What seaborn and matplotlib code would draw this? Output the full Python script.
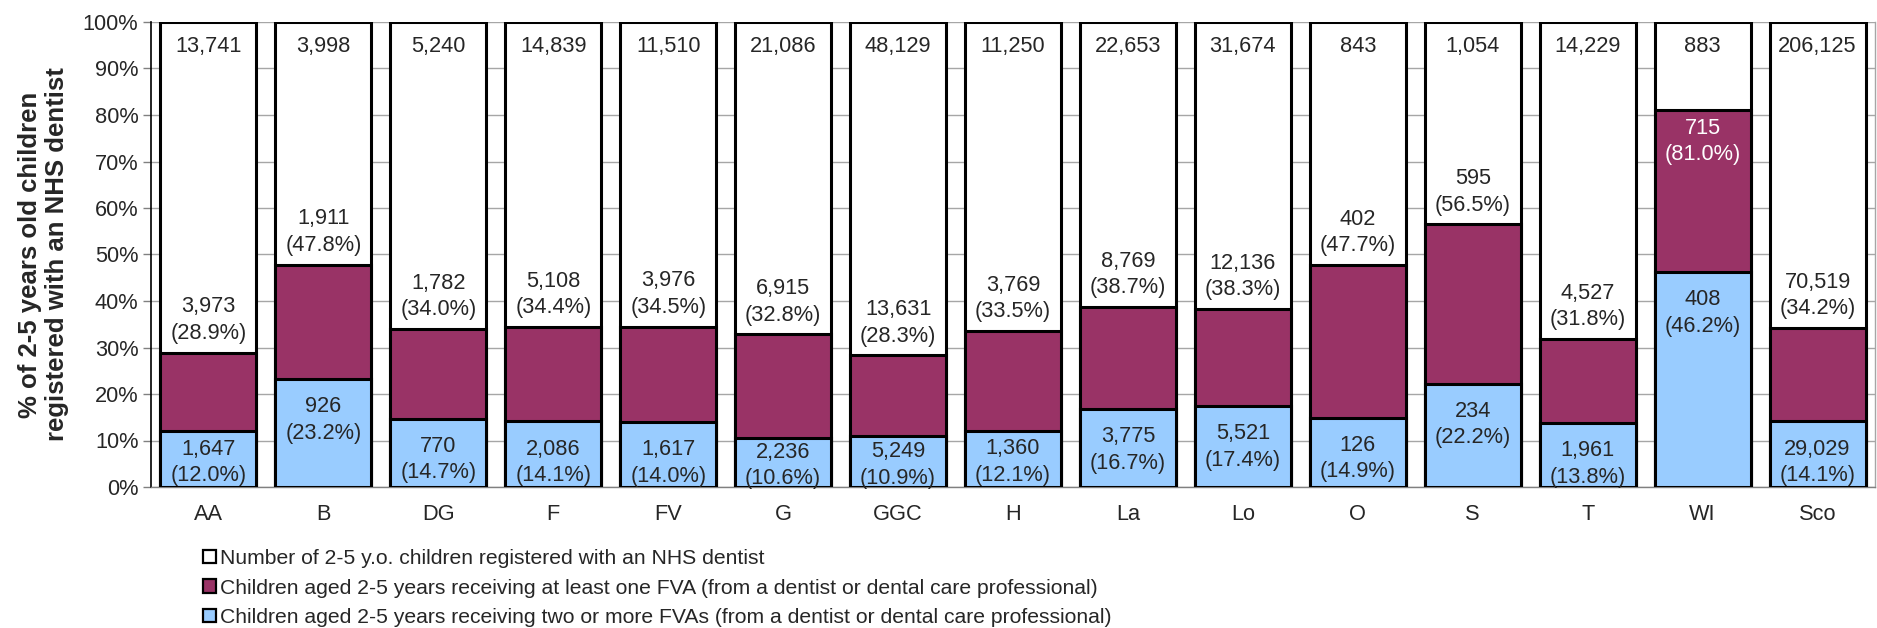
import matplotlib
matplotlib.use("Agg")
import matplotlib.pyplot as plt
from matplotlib.patches import Patch
from matplotlib.ticker import FixedLocator, PercentFormatter
import seaborn as sns
import pandas as pd

# Health board areas
regions = ["AA", "B", "DG", "F", "FV", "G", "GGC", "H", "La", "Lo", "O", "S", "T", "WI", "Sco"]

# Children aged 2-5 registered with an NHS dentist
registered = [13741, 3998, 5240, 14839, 11510, 21086, 48129, 11250, 22653, 31674, 843, 1054, 14229, 883, 206125]
registered_pct = [100.0, 100.0, 100.0, 100.0, 100.0, 100.0, 100.0, 100.0, 100.0, 100.0, 100.0, 100.0, 100.0, 100.0, 100.0]

# Receiving at least one fluoride varnish application
one_fva = [3973, 1911, 1782, 5108, 3976, 6915, 13631, 3769, 8769, 12136, 402, 595, 4527, 715, 70519]
one_fva_pct = [28.9, 47.8, 34.0, 34.4, 34.5, 32.8, 28.3, 33.5, 38.7, 38.3, 47.7, 56.5, 31.8, 81.0, 34.2]

# Receiving two or more fluoride varnish applications
two_fva = [1647, 926, 770, 2086, 1617, 2236, 5249, 1360, 3775, 5521, 126, 234, 1961, 408, 29029]
two_fva_pct = [12.0, 23.2, 14.7, 14.1, 14.0, 10.6, 10.9, 12.1, 16.7, 17.4, 14.9, 22.2, 13.8, 46.2, 14.1]

legend_labels = [
    "Number of 2-5 y.o. children registered with an NHS dentist",
    "Children aged 2-5 years receiving at least one FVA (from a dentist or dental care professional)",
    "Children aged 2-5 years receiving two or more FVAs (from a dentist or dental care professional)",
]

WHITE = "#FFFFFF"
MAROON = "#993366"
BLUE = "#99CCFF"

df = pd.DataFrame({
    "region": regions,
    "registered": registered,
    "registered_pct": registered_pct,
    "one": one_fva,
    "one_pct": one_fva_pct,
    "two": two_fva,
    "two_pct": two_fva_pct,
})

sns.set_style("white")
plt.rcParams["font.family"] = ["Liberation Sans", "DejaVu Sans"]

W, H = 1877, 628
fig = plt.figure(figsize=(W / 100, H / 100), dpi=100)
ax = fig.add_axes([151 / W, 1 - 487 / H, (1875 - 151) / W, (487 - 22) / H])

bar_kw = dict(order=regions, width=0.835, edgecolor="black", linewidth=2.2,
              saturation=1, errorbar=None, ax=ax, zorder=3)
sns.barplot(data=df, x="region", y="registered_pct", color=WHITE, **bar_kw)
sns.barplot(data=df, x="region", y="one_pct", color=MAROON, **bar_kw)
sns.barplot(data=df, x="region", y="two_pct", color=BLUE, **bar_kw)

fs = 15.7
ls = 1.35
nudge = -0.7  # two-line labels sit slightly high when centred on their bbox
for i, r in df.iterrows():
    # registered total near the top of each bar
    ax.text(i, 94.7, f"{r['registered']:,}", ha="center", va="center", fontsize=fs, zorder=5)
    # at least one FVA: above the maroon segment, or inside it when space runs out
    lab1 = f"{r['one']:,}\n({r['one_pct']:.1f}%)"
    if r["one_pct"] + 7.7 > 85:
        ax.text(i, r["one_pct"] - 6.0 + nudge, lab1, ha="center", va="center", fontsize=fs,
                color="white", zorder=5, linespacing=ls)
    else:
        ax.text(i, r["one_pct"] + 7.7 + nudge, lab1, ha="center", va="center", fontsize=fs,
                zorder=5, linespacing=ls)
    # two or more FVAs: at the inside end of the blue segment, centred if it is too short
    lab2 = f"{r['two']:,}\n({r['two_pct']:.1f}%)"
    y2 = r["two_pct"] - 8.1 if r["two_pct"] >= 13.5 else r["two_pct"] / 2
    ax.text(i, y2 + nudge, lab2, ha="center", va="center", fontsize=fs, zorder=5, linespacing=ls)

ax.set_xlim(-0.5, len(regions) - 0.5)
ax.set_ylim(0, 100)
ax.yaxis.set_major_locator(FixedLocator(range(0, 101, 10)))
ax.yaxis.set_major_formatter(PercentFormatter(decimals=0))
ax.grid(axis="y", color="#a6a6a6", linewidth=1.0, zorder=0)
ax.grid(axis="x", visible=False)
ax.set_axisbelow(True)

ax.xaxis.set_minor_locator(FixedLocator([k - 0.5 for k in range(len(regions) + 1)]))
ax.tick_params(axis="x", which="major", length=0, labelsize=15.7, pad=12)
ax.tick_params(axis="x", which="minor", length=6, width=1, color="#808080", direction="out")
ax.tick_params(axis="y", which="major", length=6, width=1, color="#808080", direction="out",
               labelsize=15.7, pad=3, left=True)

ax.spines["top"].set_visible(False)
ax.spines["left"].set_color("black")
ax.spines["left"].set_linewidth(1.2)
ax.spines["bottom"].set_color("#808080")
ax.spines["bottom"].set_linewidth(1.0)
ax.spines["right"].set_color("#a6a6a6")
ax.spines["right"].set_linewidth(1.0)

ax.set_xlabel("")
ax.set_ylabel("% of 2-5 years old children\nregistered with an NHS dentist",
              fontsize=18.5, fontweight="bold", linespacing=1.15, labelpad=10)

handles = [Patch(facecolor=c, edgecolor="black", linewidth=1.6) for c in (WHITE, MAROON, BLUE)]
fig.legend(handles, legend_labels, loc="upper left", bbox_to_anchor=(203 / W, 1 - 549 / H),
           frameon=False, fontsize=15.2, handlelength=0.6, handleheight=0.6,
           handletextpad=0.2, labelspacing=0.5, borderpad=0, borderaxespad=0)

fig.savefig("out.png", dpi=100)
